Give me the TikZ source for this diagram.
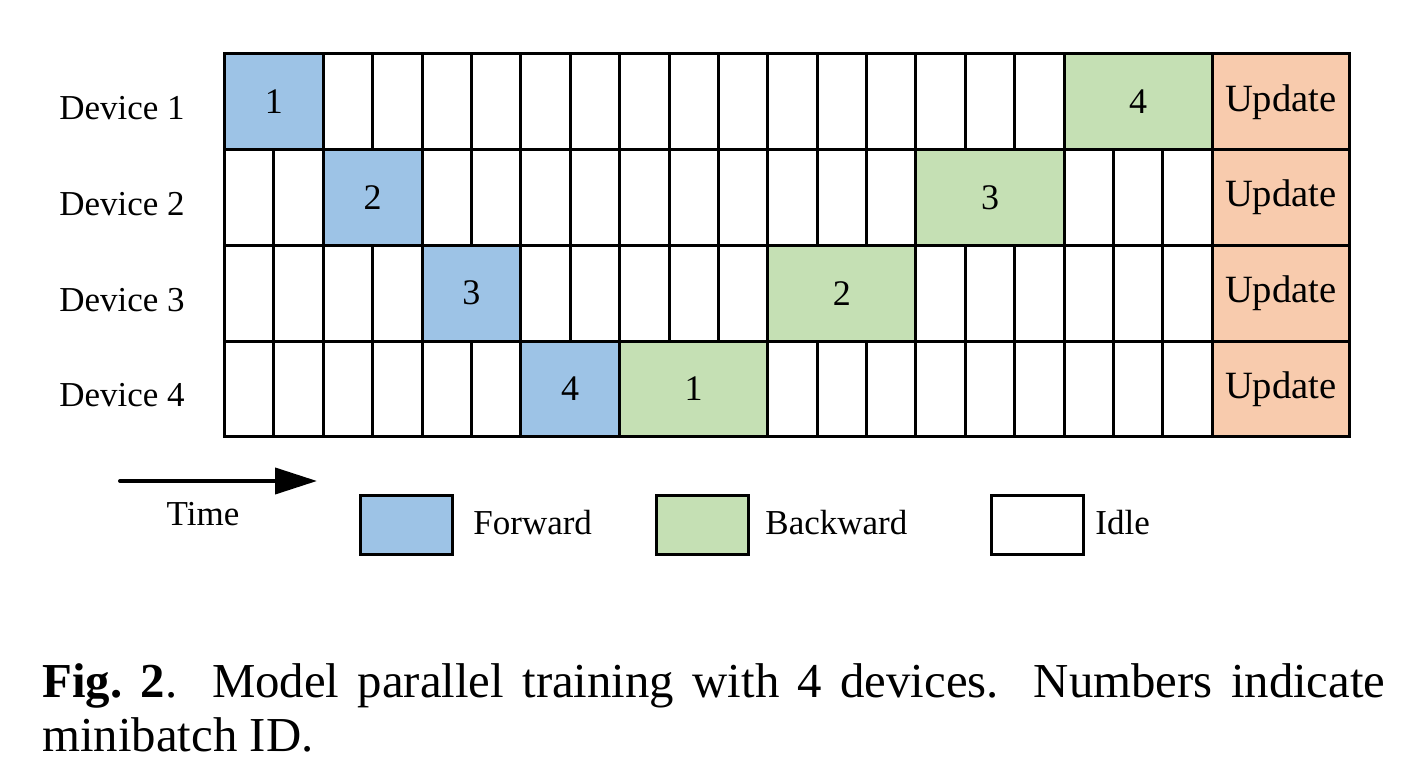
\documentclass[tikz,border=0pt]{standalone}
\usepackage{fontspec}
\setmainfont{Liberation Serif}
\usetikzlibrary{arrows.meta}
\definecolor{fwdblue}{RGB}{157,195,230}
\definecolor{bwdgreen}{RGB}{197,224,180}
\definecolor{updorange}{RGB}{248,203,173}

\begin{document}
\begin{tikzpicture}[
  x=0.5pt, y=-0.5pt,
  font=\fontsize{17.5}{21}\selectfont, >={Triangle[length=21pt, width=13pt]},
  cell/.style={draw, line width=1.5pt, inner sep=0pt, outer sep=0pt,
    minimum width={#1*\cw*0.5pt}, minimum height={\rh*0.5pt}},
  idle/.style={cell=1, fill=white},
  fwd/.style={cell=#1, fill=fwdblue, font=\fontsize{18}{21}\selectfont},
  bwd/.style={cell=#1, fill=bwdgreen, font=\fontsize{18}{21}\selectfont},
  upd/.style={draw, line width=1.5pt, inner sep=0pt, outer sep=0pt,
    minimum width={\uw*0.5pt}, minimum height={\rh*0.5pt},
    fill=updorange, font=\fontsize{19.3}{23}\selectfont},
  key/.style={draw, line width=1.5pt, fill=#1, inner sep=0pt,
    minimum width=46pt, minimum height=29.5pt},
  lb/.style={inner sep=0pt},
  captext/.style={inner sep=0pt, text width=671.5pt, align=justify,
    font=\fontsize{24.4}{27.5}\selectfont},
]
\useasboundingbox (0,0) rectangle (1425,780);
% grid: 20 slots then the update column
\def\xo{224.5}\def\yo{54}
\def\cw{49.39}\def\rh{95.67}\def\uw{137}
% device labels
\foreach \r in {1,...,4} {
  \node[lb, anchor=base] (d\r) at (122,{\yo+(\r-0.5)*\rh+18}) {Device \r};
}
% idle slots
\foreach \r/\a/\b in {1/2/16, 2/0/1, 2/4/13, 2/17/19, 3/0/3, 3/6/10,
    3/14/19, 4/0/5, 4/11/19} {
  \foreach \c in {\a,...,\b} {
    \node[idle] (i\r-\c) at ({\xo+(\c+0.5)*\cw},{\yo+(\r-0.5)*\rh}) {};
  }
}
% forward and backward passes, per minibatch
\foreach \n/\r/\c/\w/\s/\t in {f1/1/0/2/fwd/1, f2/2/2/2/fwd/2,
    f3/3/4/2/fwd/3, f4/4/6/2/fwd/4, b1/4/8/3/bwd/1, b2/3/11/3/bwd/2,
    b3/2/14/3/bwd/3, b4/1/17/3/bwd/4} {
  \node[\s=\w] (\n) at ({\xo+(\c+\w/2)*\cw},{\yo+(\r-0.5)*\rh}) {\t};
}
% updates
\foreach \r in {1,...,4} {
  \node[upd] (u\r) at ({\xo+20*\cw+\uw/2},{\yo+(\r-0.5)*\rh}) {Update};
}
% time axis
\coordinate (t0) at (120,481);
\coordinate (t1) at (317,481);
\draw[->, line width=2pt, line cap=round] (t0) -- (t1);
\node[lb, anchor=base] (time) at (203,525) {Time};
% legend
\node[key=fwdblue] (kf) at (406.5,525.5) {};
\node[lb, anchor=base west] (lf) at (473,535) {Forward};
\node[key=bwdgreen] (kb) at (702,525.5) {};
\node[lb, anchor=base west] (lbw) at (765,535) {Backward};
\node[key=white] (ki) at (1037.5,525.5) {};
\node[lb, anchor=base west] (li) at (1095,535) {Idle};
% caption
\node[captext, anchor=base west] (caption) at (42,697)
  {\textbf{Fig.~2}. Model parallel training with 4 devices. Numbers
  indicate\linebreak minibatch ID.};
\end{tikzpicture}
\end{document}
